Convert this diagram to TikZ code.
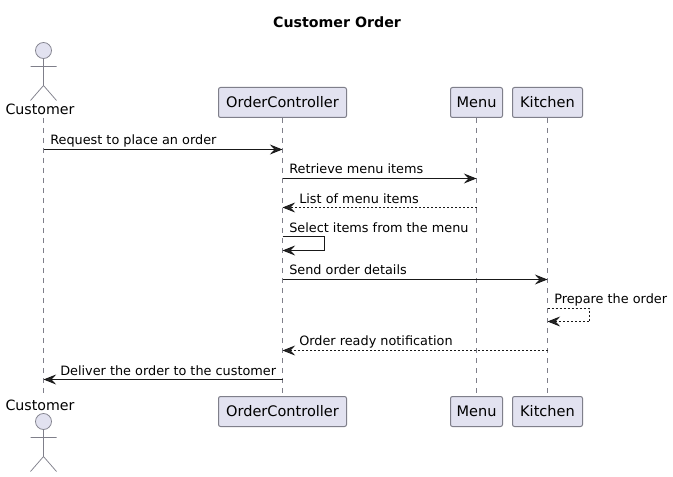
\documentclass[tikz,border=0pt]{standalone}
\usepackage{fontspec}
\setmainfont{DejaVu Sans}
\usetikzlibrary{arrows.meta}
\definecolor{pfill}{HTML}{E2E2F0}
\definecolor{pline}{HTML}{7F7F8A}
\definecolor{ptext}{HTML}{000000}
\tikzset{
  x=0.75pt,y=-0.75pt,
  part/.style={draw=pline,fill=pfill,rounded corners=1.5pt,line width=0.75pt,minimum height=22.5pt,inner sep=0pt,font=\fontsize{10.9pt}{12pt}\selectfont,text=ptext},
  life/.style={draw=pline,line width=0.6pt,dash pattern=on 3.75pt off 3.75pt},
  actorline/.style={draw=pline,line width=0.55pt},
  actorname/.style={font=\fontsize{10.65pt}{12pt}\selectfont,anchor=base},
  msgtip/.style={-{Stealth[length=9.5pt,width=7.5pt,inset=3.5pt,fill=black!85]}},
  msg/.style={msgtip,draw=black!90,line width=0.75pt},
  ret/.style={msgtip,draw=black!90,line width=0.6pt,dash pattern=on 1.5pt off 1.5pt},
  lab/.style={font=\fontsize{9.63pt}{11pt}\selectfont,anchor=base west,inner sep=0pt},
}
\begin{document}
\begin{tikzpicture}
\useasboundingbox[fill=white] (0,0) rectangle (673,477);
\node[font=\bfseries\fontsize{10.65pt}{12pt}\selectfont,anchor=base] (title) at (337,28) {Customer Order};

% participants
\node[part,minimum width=96pt] (ctrlT) at (282.5,102.5) {OrderController};
\node[part,minimum width=39pt] (menuT) at (476.5,102.5) {Menu};
\node[part,minimum width=52.5pt] (kitT) at (547.5,102.5) {Kitchen};
\node[part,minimum width=96pt] (ctrlB) at (282.5,411.5) {OrderController};
\node[part,minimum width=39pt] (menuB) at (476.5,411.5) {Menu};
\node[part,minimum width=52.5pt] (kitB) at (547.5,411.5) {Kitchen};

% actors
\node[actorname] (custT) at (40,115) {Customer};
\node[actorname] (custB) at (40,410) {Customer};
\coordinate (lifeT) at (43.5,118);
\coordinate (lifeB) at (43.5,394);

% lifelines
\draw[life] (lifeT) -- (lifeB);
\draw[life] (ctrlT.south) -- (ctrlB.north);
\draw[life] (menuT.south) -- (menuB.north);
\draw[life] (kitT.south) -- (kitB.north);

% actor figures
\draw[actorline,fill=pfill] (43.5,50.5) circle[radius=8];
\draw[actorline] (43.5,58.5) -- (43.5,85.5) (30.5,66.5) -- (56.5,66.5)
  (30.5,100.5) -- (43.5,85.5) -- (56.5,100.5);
\draw[actorline,fill=pfill] (43.5,421.5) circle[radius=8];
\draw[actorline] (43.5,429.5) -- (43.5,456.5) (30.5,437.5) -- (56.5,437.5)
  (30.5,471.5) -- (43.5,456.5) -- (56.5,471.5);

% message anchors
\coordinate (m1a) at (43.5,149.5);  \coordinate (m1b) at (282.5,149.5);
\coordinate (m2a) at (282.5,178.5); \coordinate (m2b) at (476.5,178.5);
\coordinate (m3a) at (476.5,207.5); \coordinate (m3b) at (282.5,207.5);
\coordinate (m4a) at (282.5,236.5); \coordinate (m4b) at (282.5,250.5);
\coordinate (m5a) at (282.5,279.5); \coordinate (m5b) at (547.5,279.5);
\coordinate (m6a) at (547.5,308.5); \coordinate (m6b) at (547.5,321.5);
\coordinate (m7a) at (547.5,350.5); \coordinate (m7b) at (282.5,350.5);
\coordinate (m8a) at (282.5,379.5); \coordinate (m8b) at (43.5,379.5);

\draw[msg] (m1a) -- (m1b);
\draw[msg] (m2a) -- (m2b);
\draw[ret] (m3a) -- (m3b);
\draw[msg] (m4a) -- ++(42,0) |- (m4b);
\draw[msg] (m5a) -- (m5b);
\draw[ret] (m6a) -- ++(42,0) |- (m6b);
\draw[ret] (m7a) -- (m7b);
\draw[msg] (m8a) -- (m8b);

\node[lab] (l1) at (50,145) {Request to place an order};
\node[lab] (l2) at (289,174) {Retrieve menu items};
\node[lab] (l3) at (299,203) {List of menu items};
\node[lab] (l4) at (289,232) {Select items from the menu};
\node[lab] (l5) at (289,274) {Send order details};
\node[lab] (l6) at (554,303) {Prepare the order};
\node[lab] (l7) at (299,345) {Order ready notification};
\node[lab] (l8) at (60,375) {Deliver the order to the customer};
\end{tikzpicture}
\end{document}
